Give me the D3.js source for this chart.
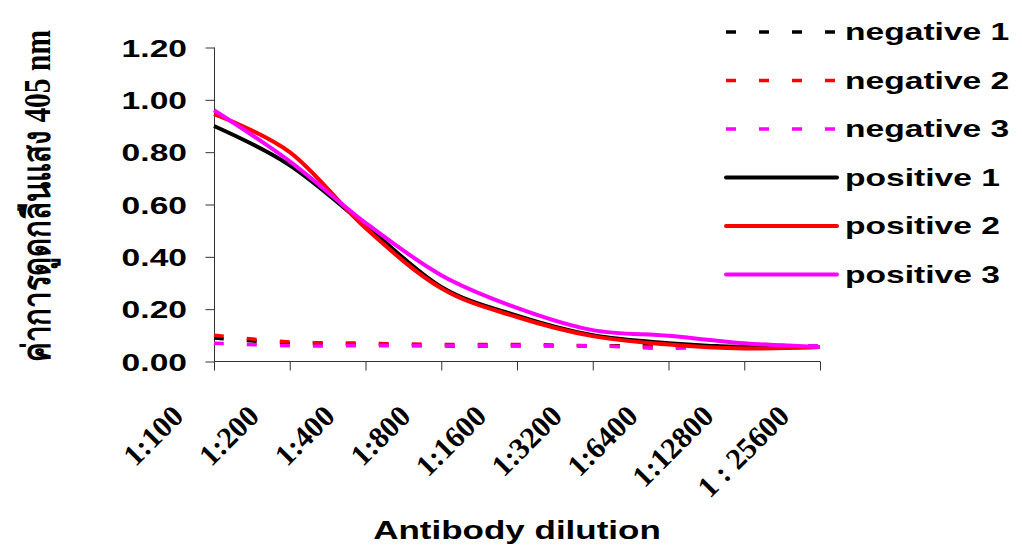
<!DOCTYPE html>
<html>
<head>
<meta charset="utf-8">
<script src="https://cdn.jsdelivr.net/npm/d3@7"></script>
<style>
  body { margin: 0; background: #fff; }
</style>
</head>
<body>
<div id="chart"></div>
<script>
// dilution categories and absorbance values
const categories = ['1:100', '1:200', '1:400', '1:800', '1:1600', '1:3200', '1:6400', '1:12800', '1 : 25600'];
const negative1 = [0.09, 0.07, 0.065, 0.06, 0.06, 0.06, 0.06, 0.06, 0.06];
const negative2 = [0.10, 0.075, 0.07, 0.065, 0.065, 0.06, 0.055, 0.055, 0.055];
const negative3 = [0.07, 0.06, 0.06, 0.06, 0.06, 0.06, 0.05, 0.06, 0.06];
const positive1 = [0.90, 0.75, 0.52, 0.285, 0.175, 0.10, 0.07, 0.055, 0.055];
const positive2 = [0.945, 0.80, 0.51, 0.28, 0.17, 0.097, 0.065, 0.05, 0.055];
const positive3 = [0.96, 0.765, 0.53, 0.33, 0.205, 0.12, 0.098, 0.07, 0.055];
const yTicks = [0, 0.2, 0.4, 0.6, 0.8, 1.0, 1.2];

const series = [
  { name: 'negative 1', values: negative1, color: '#000000', dashed: true },
  { name: 'negative 2', values: negative2, color: '#ff0000', dashed: true },
  { name: 'negative 3', values: negative3, color: '#ff00ff', dashed: true },
  { name: 'positive 1', values: positive1, color: '#000000', dashed: false },
  { name: 'positive 2', values: positive2, color: '#ff0000', dashed: false },
  { name: 'positive 3', values: positive3, color: '#ff00ff', dashed: false }
];

const width = 1022;
const height = 546;
const stretch = 1.4; // the original text is widened horizontally

const svg = d3.select('#chart')
  .append('svg')
  .attr('width', width)
  .attr('height', height);

const x = d3.scalePoint()
  .domain(categories)
  .range([214, 820]);

const y = d3.scaleLinear()
  .domain([0, 1.2])
  .range([361.5, 47.5]);

// y axis
const yAxis = svg.append('g')
  .attr('transform', 'translate(214.5,0)')
  .call(d3.axisLeft(y).tickValues(yTicks).tickSize(9).tickFormat(''));
yAxis.select('.domain').attr('stroke', '#333').attr('d', `M0,${y(1.2)}V${y(0)}`);
yAxis.selectAll('.tick line').attr('stroke', '#333');

svg.selectAll('.ylabel')
  .data(yTicks)
  .enter()
  .append('text')
  .attr('transform', d => `translate(187,${y(d) + 9}) scale(${stretch},1)`)
  .attr('text-anchor', 'end')
  .attr('font-family', 'Liberation Sans, Arial, sans-serif')
  .attr('font-weight', 'bold')
  .attr('font-size', '24px')
  .attr('fill', '#000')
  .text(d => d.toFixed(2));

// x axis
const xAxis = svg.append('g')
  .attr('transform', `translate(0,${y(0)})`)
  .call(d3.axisBottom(x).tickSize(9).tickFormat(''));
xAxis.select('.domain').attr('stroke', '#333').attr('d', 'M214,0H820');
xAxis.selectAll('.tick line').attr('stroke', '#333');

svg.selectAll('.xlabel')
  .data(categories)
  .enter()
  .append('text')
  .attr('transform', d => `translate(${x(d) - 29},418) rotate(-45)`)
  .attr('text-anchor', 'end')
  .attr('font-family', 'Liberation Serif, Times New Roman, serif')
  .attr('font-weight', 'bold')
  .attr('font-size', '30px')
  .attr('fill', '#000')
  .text(d => d);

// lines
const line = d3.line()
  .x((d, i) => x(categories[i]))
  .y(d => y(d))
  .curve(d3.curveCardinal.tension(0));

svg.selectAll('.series')
  .data(series)
  .enter()
  .append('path')
  .attr('d', d => line(d.values))
  .attr('fill', 'none')
  .attr('stroke', d => d.color)
  .attr('stroke-width', d => d.dashed ? 3.5 : 4)
  .attr('stroke-dasharray', d => d.dashed ? '10,23' : null);

// legend
const legend = svg.selectAll('.legend')
  .data(series)
  .enter()
  .append('g')
  .attr('transform', (d, i) => `translate(726,${32 + i * 48.5})`);

legend.append('line')
  .attr('x1', 0)
  .attr('x2', 111)
  .attr('stroke', d => d.color)
  .attr('stroke-width', d => d.dashed ? 3.5 : 4)
  .attr('stroke-linecap', d => d.dashed ? 'butt' : 'round')
  .attr('stroke-dasharray', d => d.dashed ? '10,23' : null);

legend.append('text')
  .attr('transform', `translate(119,8) scale(${stretch},1)`)
  .attr('font-family', 'Liberation Sans, Arial, sans-serif')
  .attr('font-weight', 'bold')
  .attr('font-size', '24px')
  .attr('fill', '#000')
  .text(d => d.name);

// axis titles
svg.append('text')
  .attr('transform', `translate(517,539) scale(${stretch},1)`)
  .attr('text-anchor', 'middle')
  .attr('font-family', 'Liberation Sans, Arial, sans-serif')
  .attr('font-weight', 'bold')
  .attr('font-size', '25px')
  .attr('fill', '#000')
  .text('Antibody dilution');

svg.append('text')
  .attr('transform', 'translate(50,196) scale(1.3,1) rotate(-90)')
  .attr('text-anchor', 'middle')
  .attr('font-family', 'Liberation Serif, Times New Roman, serif')
  .attr('font-weight', 'bold')
  .attr('font-size', '29.5px')
  .attr('fill', '#000')
  .text('ค่าการดูดกลืนแสง 405 nm');
</script>
</body>
</html>
